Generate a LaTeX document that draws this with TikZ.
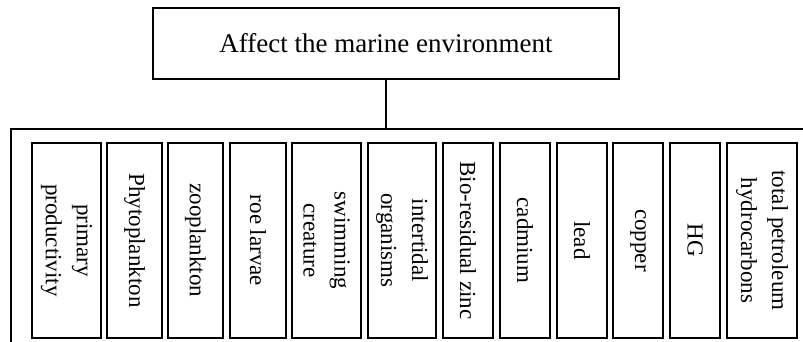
\documentclass[tikz,border=0pt]{standalone}
\usepackage{fontspec}
\setmainfont{Liberation Serif}
\usetikzlibrary{positioning,calc}

\begin{document}
\begin{tikzpicture}[x=1pt,y=1pt]
\tikzstyle{top}=[draw,line width=1.2pt,minimum width=466pt,minimum height=71pt,inner sep=0pt,font=\fontsize{27}{32}\selectfont];
\tikzstyle{fac}=[draw,line width=1.2pt,rotate=-90,minimum width=195pt,inner sep=0pt,align=center,font=\fontsize{23}{31}\selectfont];

\useasboundingbox (0,0) rectangle (803,-342);

\begin{scope}
        \node[top] (env) at (386,-43.5) {Affect the marine environment};

        \node[fac,minimum height=69pt] (f1) at (66.5,-240.5) {primary\\productivity};
        \node[fac,minimum height=55pt] (f2) at (134.5,-240.5) {Phytoplankton};
        \node[fac,minimum height=55pt] (f3) at (195.5,-240.5) {zooplankton};
        \node[fac,minimum height=56pt] (f4) at (258,-240.5) {roe larvae};
        \node[fac,minimum height=69pt] (f5) at (326.5,-240.5) {swimming\\creature};
        \node[fac,minimum height=68pt] (f6) at (402,-240.5) {intertidal\\organisms};
        \node[fac,minimum height=50pt] (f7) at (468,-240.5) {Bio-residual zinc};
        \node[fac,minimum height=50pt] (f8) at (525,-240.5) {cadmium};
        \node[fac,minimum height=50pt] (f9) at (582,-240.5) {lead};
        \node[fac,minimum height=50pt] (f10) at (638,-240.5) {copper};
        \node[fac,minimum height=50pt] (f11) at (695,-240.5) {HG};
        \node[fac,minimum height=70pt] (f12) at (762,-240.5) {total petroleum\\hydrocarbons};

        \coordinate (hub) at (env.south |- 0,-129);
        \coordinate (lft) at (11,-129);
        \coordinate (rgt) at (803,-129);
        \coordinate (bot) at (11,-342);

        \draw[line width=1.2pt] (env.south) -- (hub);
        \draw[line width=1.2pt] (rgt) -- (lft) -- (bot);
\end{scope}

\end{tikzpicture}
\end{document}
